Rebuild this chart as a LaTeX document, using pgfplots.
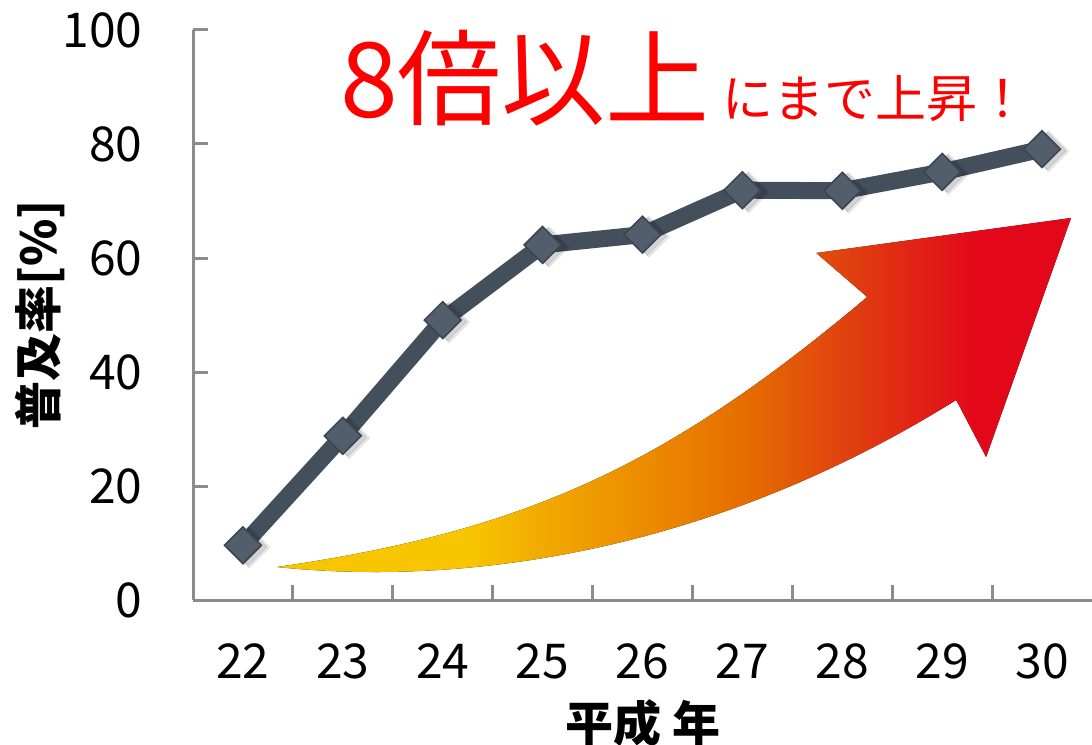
\documentclass[border=0pt]{standalone}
\usepackage{fontspec}
\setmainfont{Noto Sans CJK JP}
\usepackage{pgfplots}
\pgfplotsset{compat=1.18}
\definecolor{axgray}{HTML}{8C8C8C}
\definecolor{linec}{HTML}{444F5C}
\definecolor{markc}{HTML}{525E6C}
\definecolor{markd}{HTML}{3C4653}
\definecolor{ylw}{HTML}{F8C600}
\definecolor{ylo}{HTML}{F0A800}
\definecolor{orng}{HTML}{EC8A00}
\definecolor{orng2}{HTML}{E56A00}
\definecolor{orred}{HTML}{E04010}
\definecolor{redd}{HTML}{E2081A}
\pgfdeclarehorizontalshading{arrowshade}{100bp}{color(0bp)=(ylw); color(37bp)=(ylw); color(42bp)=(ylo); color(48.5bp)=(orng); color(55bp)=(orng2); color(61bp)=(orred); color(69bp)=(redd); color(100bp)=(redd)}
\pgfplotstableread{
x y
0 9.6
1 28.8
2 49.1
3 62.3
4 64.1
5 71.9
6 71.8
7 75.1
8 79.1
}\rate
\begin{document}
\begin{tikzpicture}
\begin{axis}[name=ax, scale only axis, width=449.5pt, height=285pt,
  xmin=-0.5, xmax=8.5, ymin=0, ymax=100,
  axis x line*=bottom, axis y line*=left,
  axis line style={draw=axgray, line width=1.5pt},
  xtick={0,...,8}, xticklabels={22,23,24,25,26,27,28,29,30},
  minor xtick={0.5,1.5,...,7.5},
  ytick={0,20,...,100},
  tick align=inside,
  major tick length=7.5pt, minor tick length=7.5pt,
  every tick/.style={draw=axgray, line width=1.5pt},
  major x tick style={draw=none},
  /pgf/number format/assume math mode=true,
  ticklabel style={font=\fontsize{24}{24}\selectfont, inner sep=0pt},
  yticklabel style={anchor=east, xshift=-25pt},
  xticklabel style={anchor=center, yshift=-30.5pt},
  xlabel={平成 年}, ylabel={普及率[\%]},
  label style={font=\fontsize{24}{24}\selectfont\bfseries, inner sep=0pt},
  xlabel style={at={(axis description cs:0.5,0)}, anchor=center, yshift=-61.5pt},
  ylabel style={at={(axis description cs:0,0.5)}, anchor=center, yshift=76.5pt},
  clip=false]
\fill[shading=arrowshade] (axis cs:0.34,5.79) .. controls (axis cs:2.84,12.11) and (axis cs:4.25,23.68) .. (axis cs:6.25,53.16)
  -- (axis cs:5.74,60.88) -- (axis cs:8.29,67.02) -- (axis cs:7.44,25.09) -- (axis cs:7.14,35.09)
  .. controls (axis cs:4.57,7.02) and (axis cs:2.07,2.63) .. (axis cs:0.34,5.79) -- cycle;
\addplot[linec, line width=8.5pt, line join=round] table {\rate};
\addplot[only marks, mark=square*, mark size=7.2pt,
  mark options={rotate=45, fill=black, draw=none, opacity=0.08, xshift=1.5pt, yshift=-3pt}] table {\rate};
\addplot[only marks, mark=square*, mark size=6.6pt,
  mark options={rotate=45, fill=black, draw=none, opacity=0.1, xshift=1.2pt, yshift=-2.5pt}] table {\rate};
\addplot[only marks, mark=square*, mark size=6.5pt,
  mark options={rotate=45, fill=markc, draw=markd, line width=0.8pt}] table {\rate};
\node[anchor=base west, inner sep=0pt, text=red, font=\fontsize{52}{52}\selectfont] at (axis cs:0.97,84.6) {8倍以上};
\node[anchor=base west, inner sep=0pt, text=red, font=\fontsize{25.5}{25.5}\selectfont] at (axis cs:4.80,84.6) {にまで上昇！};
\end{axis}
\pgfresetboundingbox
\path[use as bounding box] ([shift={(-96.5pt,-72pt)}]ax.south west) rectangle ([shift={(0pt,15pt)}]ax.north east);
\end{tikzpicture}
\end{document}
